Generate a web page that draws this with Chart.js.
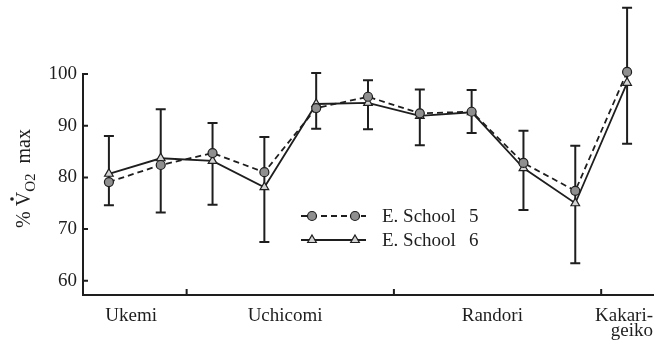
<!DOCTYPE html>
<html>
<head>
<meta charset="utf-8">
<script src="https://cdn.jsdelivr.net/npm/chart.js@4/dist/chart.umd.min.js"></script>
<style>
  html, body { margin: 0; padding: 0; background: #fff; }
  #wrap { width: 663px; height: 345px; position: relative; }
</style>
</head>
<body>
<div id="wrap"><canvas id="chart"></canvas></div>
<script>
// Measurement positions along the practice session (1 = first sample)
const positions = [1, 2, 3, 4, 5, 6, 7, 8, 9, 10, 11];
// %VO2max per measurement
const school5 = [79.1, 82.4, 84.7, 81.0, 93.4, 95.6, 92.4, 92.7, 82.8, 77.4, 100.4];
const school6 = [80.7, 83.7, 83.2, 78.1, 94.2, 94.4, 91.9, 92.6, 81.8, 75.0, 98.3];
// Error bar extents (upper / lower) per measurement
const errUpper = [88.0, 93.2, 90.5, 87.8, 100.2, 98.8, 97.0, 96.9, 89.0, 86.1, 112.8];
const errLower = [74.6, 73.2, 74.7, 67.5, 89.4, 89.3, 86.2, 88.6, 73.7, 63.4, 86.5];
// Practice phases: label anchors on the x axis and the boundaries between phases
const phaseLabels = ['', 'Ukemi', 'Uchicomi', 'Randori', ['Kakari-', 'geiko']];
const phaseAnchors = [0.5, 1.43, 4.4, 8.4, 11.5];
const phaseBounds = [2.5, 6.5, 10.5];
const yTicks = [60, 70, 80, 90, 100];

const INK = '#1e1e1e';
const SERIF = '"Liberation Serif", "Times New Roman", serif';
Chart.defaults.font.family = SERIF;
Chart.defaults.font.size = 19;
Chart.defaults.color = INK;

const toPoints = arr => positions.map((p, i) => ({ x: p, y: arr[i] }));

// Vertical error bars with end caps
const errorBars = {
  id: 'errorBars',
  beforeDatasetsDraw(chart) {
    const { ctx, scales: { x, y } } = chart;
    ctx.save();
    ctx.strokeStyle = INK;
    ctx.lineWidth = 2;
    positions.forEach((p, i) => {
      const px = x.getPixelForValue(p);
      const top = y.getPixelForValue(errUpper[i]);
      const bot = y.getPixelForValue(errLower[i]);
      ctx.beginPath();
      ctx.moveTo(px, top); ctx.lineTo(px, bot);
      ctx.moveTo(px - 5, top); ctx.lineTo(px + 5, top);
      ctx.moveTo(px - 5, bot); ctx.lineTo(px + 5, bot);
      ctx.stroke();
    });
    ctx.restore();
  }
};

// Inward tick marks on both axes
const innerTicks = {
  id: 'innerTicks',
  afterDraw(chart) {
    const { ctx, chartArea: a, scales: { x, y } } = chart;
    ctx.save();
    ctx.strokeStyle = INK;
    ctx.lineWidth = 2;
    ctx.beginPath();
    yTicks.forEach(v => {
      const py = y.getPixelForValue(v);
      ctx.moveTo(a.left, py); ctx.lineTo(a.left + 5, py);
    });
    phaseBounds.forEach(v => {
      const px = x.getPixelForValue(v);
      ctx.moveTo(px, a.bottom - 1); ctx.lineTo(px, a.bottom - 6);
    });
    ctx.stroke();
    ctx.restore();
  }
};

// Y axis title: % V-dot O2 max, with subscript
const yTitle = {
  id: 'yTitle',
  afterDraw(chart) {
    const { ctx, chartArea: a } = chart;
    const big = '20px ' + SERIF, small = '15px ' + SERIF;
    const parts = [
      { t: '% ', f: big, dy: 0 },
      { t: 'V', f: big, dy: 0, dot: true },
      { t: 'O', f: small, dy: 5 },
      { t: '2', f: small, dy: 5 },
      { t: '  max', f: big, dy: 0 }
    ];
    ctx.save();
    let total = 0;
    parts.forEach(p => { ctx.font = p.f; p.w = ctx.measureText(p.t).width; total += p.w; });
    const cy = (a.top + a.bottom) / 2 - 6;
    ctx.translate(30, cy);
    ctx.rotate(-Math.PI / 2);
    ctx.fillStyle = INK;
    ctx.textBaseline = 'alphabetic';
    ctx.textAlign = 'left';
    let cx = -total / 2;
    parts.forEach(p => {
      ctx.font = p.f;
      ctx.fillText(p.t, cx, p.dy);
      if (p.dot) {
        ctx.beginPath();
        ctx.arc(cx + p.w / 2, -18, 1.8, 0, Math.PI * 2);
        ctx.fill();
      }
      cx += p.w;
    });
    ctx.restore();
  }
};

// Legend: line sample with two markers, followed by the series name
const sampleLegend = {
  id: 'sampleLegend',
  afterDraw(chart) {
    const { ctx } = chart;
    const rows = [216, 240];
    ctx.save();
    chart.data.datasets.forEach((ds, i) => {
      const yy = rows[i];
      ctx.strokeStyle = ds.borderColor;
      ctx.lineWidth = ds.borderWidth;
      ctx.setLineDash(ds.borderDash || []);
      ctx.beginPath(); ctx.moveTo(301, yy); ctx.lineTo(366, yy); ctx.stroke();
      ctx.setLineDash([]);
      [312, 355].forEach(mx => {
        ctx.fillStyle = ds.pointBackgroundColor;
        ctx.strokeStyle = ds.pointBorderColor;
        ctx.lineWidth = ds.pointBorderWidth;
        Chart.helpers.drawPoint(ctx, {
          pointStyle: ds.pointStyle, radius: ds.pointRadius, borderWidth: ds.pointBorderWidth
        }, mx, yy);
      });
      const cut = ds.label.lastIndexOf(' ');
      ctx.fillStyle = INK;
      ctx.font = '19px ' + SERIF;
      ctx.textBaseline = 'middle';
      ctx.textAlign = 'left';
      ctx.fillText(ds.label.slice(0, cut), 382, yy + 1);
      ctx.fillText(ds.label.slice(cut + 1), 469, yy + 1);
    });
    ctx.restore();
  }
};

new Chart(document.getElementById('chart'), {
  type: 'line',
  data: {
    datasets: [
      {
        label: 'E. School 5',
        data: toPoints(school5),
        borderColor: INK,
        borderWidth: 1.8,
        borderDash: [6, 4],
        pointStyle: 'circle',
        pointRadius: 4.5,
        pointBackgroundColor: '#8f8f8f',
        pointBorderColor: INK,
        pointBorderWidth: 1.2,
        clip: false,
        order: 1
      },
      {
        label: 'E. School 6',
        data: toPoints(school6),
        borderColor: INK,
        borderWidth: 1.8,
        pointStyle: 'triangle',
        pointRadius: 5,
        pointBackgroundColor: '#d4d4d4',
        pointBorderColor: INK,
        pointBorderWidth: 1.2,
        clip: false,
        order: 2
      }
    ]
  },
  options: {
    responsive: true,
    maintainAspectRatio: false,
    animation: false,
    layout: { padding: { top: 74, right: 10, left: 0, bottom: 0 } },
    plugins: {
      legend: { display: false },
      tooltip: { enabled: false }
    },
    scales: {
      x: {
        type: 'linear',
        min: 0.5,
        max: 11.5,
        afterBuildTicks: s => { s.ticks = phaseAnchors.map(v => ({ value: v })); },
        afterFit: s => { s.height = 50; s.paddingLeft = 0; s.paddingRight = 0; },
        grid: { drawOnChartArea: false, drawTicks: false },
        border: { display: true, color: INK, width: 2 },
        ticks: {
          autoSkip: false,
          maxRotation: 0,
          minRotation: 0,
          align: 'inner',
          padding: 13,
          color: INK,
          font: { size: 19, lineHeight: 0.82 },
          callback: (v, i) => phaseLabels[i]
        }
      },
      y: {
        min: 57.25,
        max: 100,
        afterBuildTicks: s => { s.ticks = yTicks.map(v => ({ value: v })); },
        afterFit: s => { s.width = 83; },
        grid: { drawOnChartArea: false, drawTicks: false },
        border: { display: true, color: INK, width: 2 },
        ticks: { padding: 6, color: INK, font: { size: 19 } }
      }
    }
  },
  plugins: [errorBars, innerTicks, yTitle, sampleLegend]
});
</script>
</body>
</html>
